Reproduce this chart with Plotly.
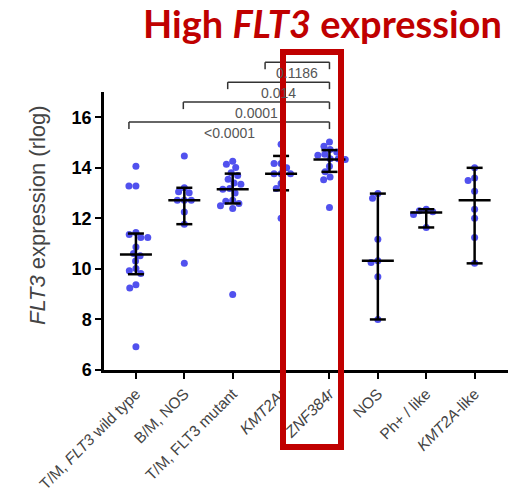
import plotly.graph_objects as go

# ---------------- data ----------------
groups = ["T/M, <i>FLT3</i> wild type", "B/M, NOS", "T/M, FLT3 mutant", "<i>KMT2Ar</i>",
          "<i>ZNF384r</i>", "NOS", "Ph+ / like", "<i>KMT2A</i>-like"]

vals_tm_wt = [14.06, 13.28, 13.28, 11.44, 11.36, 11.24, 11.24, 10.87, 10.61, 10.52, 10.31,
              10.02, 9.93, 9.82, 9.37, 9.24, 6.92]
vals_bm_nos = [14.47, 13.21, 13.05, 13.01, 12.72, 12.72, 12.72, 12.25, 11.77, 10.22]
vals_tm_mut = [14.26, 14.14, 14.01, 13.80, 13.70, 13.55, 13.40, 13.35, 13.18, 13.15, 13.00,
               12.72, 12.68, 12.59, 12.50, 12.39, 8.99]
vals_kmt2ar = [14.93, 14.17, 14.17, 14.00, 13.77, 13.77, 13.77, 13.38, 13.18, 12.00]
vals_znf384r = [15.02, 14.85, 14.72, 14.63, 14.54, 14.50, 14.36, 14.36, 14.33, 14.06, 13.84,
                13.64, 13.53, 12.43]
vals_nos = [12.98, 12.80, 11.17, 10.32, 10.25, 9.69, 8.00]
vals_ph = [12.36, 12.30, 12.26, 12.15, 11.64]
vals_kmt2a_like = [14.00, 13.60, 13.50, 13.07, 12.36, 12.00, 11.24, 10.22]

medians = [10.57, 12.72, 13.15, 13.77, 14.33, 10.32, 12.23, 12.72]
err_low = [9.79, 11.77, 12.59, 13.11, 13.84, 8.00, 11.64, 10.22]
err_high = [11.40, 13.21, 13.77, 14.47, 14.70, 12.98, 12.36, 14.00]

comp_left = [0, 1, 2, 3]
comp_right = [4, 4, 4, 4]
comp_labels = ["<0.0001", "0.0001", "0.014", "0.1186"]

all_vals = [vals_tm_wt, vals_bm_nos, vals_tm_mut, vals_kmt2ar, vals_znf384r,
            vals_nos, vals_ph, vals_kmt2a_like]

# ---------------- geometry / style ----------------
W, H = 518, 497
ML, MR, MT, MB = 104, 10, 92, 127
PW, PH = W - ML - MR, H - MT - MB
XMIN, XMAX = -0.66, 7.69
YMIN, YMAX = 6, 17
PXC = PW / (XMAX - XMIN)   # px per category unit
PXV = PH / (YMAX - YMIN)   # px per value unit
DOT = 7
BLUE = "rgba(50,50,235,0.85)"
RED = "#C00000"


def swarm(values, d=7.0):
    order = sorted(range(len(values)), key=lambda i: -values[i])
    placed, out = [], [0.0] * len(values)
    for i in order:
        y = values[i] * PXV
        cands, intervals = [0.0], []
        for xj, yj in placed:
            dy = abs(y - yj)
            if dy < d:
                w = (d * d - dy * dy) ** 0.5
                intervals.append((xj - w, xj + w))
                cands += [xj - w, xj + w]
        valid = [c for c in cands if all(not (a + 1e-6 < c < b - 1e-6) for a, b in intervals)]
        best = min(valid, key=lambda c: (round(abs(c), 4), c))
        out[i] = best / PXC
        placed.append((best, y))
    return out


fig = go.Figure()
for gi, vals in enumerate(all_vals):
    offs = swarm(vals)
    fig.add_trace(go.Scatter(
        x=[gi + o for o in offs], y=vals, mode="markers",
        marker=dict(size=DOT, color=BLUE, line=dict(width=0)),
        showlegend=False, cliponaxis=False, hoverinfo="y"))

shapes = []
mw, cw = 16 / PXC, 8 / PXC
for gi in range(len(groups)):
    line = dict(color="black", width=2.5)
    shapes.append(dict(type="line", xref="x", yref="y", x0=gi - mw, x1=gi + mw,
                       y0=medians[gi], y1=medians[gi], line=line))
    shapes.append(dict(type="line", xref="x", yref="y", x0=gi, x1=gi,
                       y0=err_low[gi], y1=err_high[gi], line=line))
    for yv in (err_low[gi], err_high[gi]):
        shapes.append(dict(type="line", xref="x", yref="y", x0=gi - cw, x1=gi + cw,
                           y0=yv, y1=yv, line=line))


def px_x(c):
    return (c - XMIN) / (XMAX - XMIN)


def py(v):
    return (v - YMIN) / (YMAX - YMIN)


annotations = []
left_nudge_px = [-7, -1, -5, -16]
base_level, step = 15.81, 0.79
tick_down = 7 / PH
for k in range(len(comp_left)):
    lvl = py(base_level + k * step)
    xa = px_x(comp_left[k]) + left_nudge_px[k] / PW
    xb = px_x(comp_right[k])
    bl = dict(color="#333", width=1.5)
    shapes.append(dict(type="line", xref="paper", yref="paper", x0=xa, x1=xb, y0=lvl, y1=lvl, line=bl))
    shapes.append(dict(type="line", xref="paper", yref="paper", x0=xa, x1=xa, y0=lvl, y1=lvl - tick_down, line=bl))
    shapes.append(dict(type="line", xref="paper", yref="paper", x0=xb, x1=xb, y0=lvl, y1=lvl - tick_down, line=bl))
    annotations.append(dict(xref="paper", yref="paper", x=(xa + xb) / 2, y=lvl - 1 / PH,
                            text=comp_labels[k], showarrow=False, xanchor="center", yanchor="top",
                            font=dict(family="Liberation Sans", size=14, color="#555")))

# red highlight box
shapes.append(dict(type="rect", xref="paper", yref="paper",
                   x0=(283 - ML) / PW, x1=(341 - ML) / PW,
                   y0=(H - MB - 447) / PH, y1=(H - MB - 52) / PH,
                   line=dict(color=RED, width=6), layer="above"))

# title
annotations.append(dict(xref="paper", yref="paper", x=(322 - ML) / PW, y=(H - MB - 23) / PH,
                        text="<b>High <i>FLT3</i> expression</b>", showarrow=False,
                        xanchor="center", yanchor="middle",
                        font=dict(family="Lato", size=38, color=RED)))
# y-axis title
annotations.append(dict(xref="paper", yref="paper", x=(37 - ML) / PW, y=(H - MB - 215) / PH,
                        text="<i>FLT3</i> expression (rlog)", showarrow=False, textangle=-90,
                        xanchor="center", yanchor="middle",
                        font=dict(family="Liberation Sans", size=22, color="#444")))

fig.update_layout(
    width=W, height=H, margin=dict(l=ML, r=MR, t=MT, b=MB, autoexpand=False),
    paper_bgcolor="white", plot_bgcolor="white",
    shapes=shapes, annotations=annotations, showlegend=False,
    xaxis=dict(range=[XMIN, XMAX], tickvals=list(range(len(groups))), ticktext=groups,
               tickangle=-45, showline=True, linecolor="black", linewidth=2.5,
               ticks="outside", ticklen=6, tickwidth=2, tickcolor="black",
               showgrid=False, zeroline=False, automargin=False,
               tickfont=dict(family="Liberation Sans", size=15.5, color="#444")),
    yaxis=dict(range=[YMIN, YMAX], tickvals=[6, 8, 10, 12, 14, 16], showline=True,
               linecolor="black", linewidth=2.5, ticks="outside", ticklen=6, tickwidth=2,
               tickcolor="black", showgrid=False, zeroline=False, automargin=False,
               tickfont=dict(family="Liberation Sans", size=18, color="black", weight="bold")),
)

fig.write_html("out.html")
